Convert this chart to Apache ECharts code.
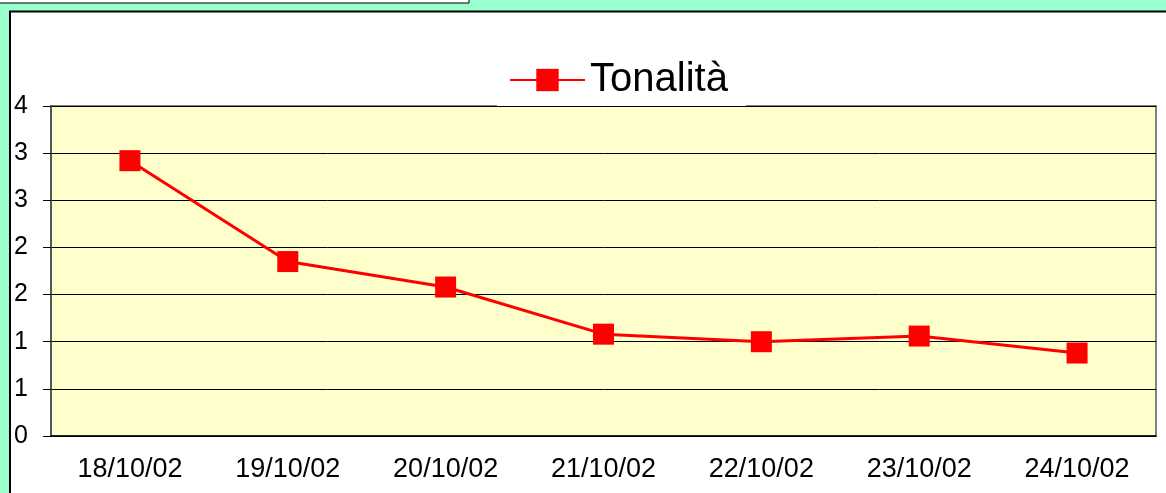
<!DOCTYPE html>
<html>
<head>
<meta charset="utf-8">
<script src="https://cdn.jsdelivr.net/npm/echarts@6/dist/echarts.min.js"></script>
<style>
  html, body { margin: 0; padding: 0; background: #99FFCC; }
  #chart { width: 1166px; height: 493px; }
</style>
</head>
<body>
<div id="chart"></div>
<script>
const dates = ['18/10/02', '19/10/02', '20/10/02', '21/10/02', '22/10/02', '23/10/02', '24/10/02']
const tonalita = [2.92, 1.85, 1.58, 1.08, 1.0, 1.06, 0.88]

const chart = echarts.init(document.getElementById('chart'))
chart.setOption({
  backgroundColor: '#99FFCC',
  animation: false,
  textStyle: { fontFamily: 'Liberation Sans, Arial, sans-serif' },
  graphic: [
    // box on top-left
    { type: 'rect', z: -10, shape: { x: -5, y: -5, width: 474, height: 8 },
      style: { fill: '#fff', stroke: '#000', lineWidth: 1 } },
    // white chart panel
    { type: 'rect', z: -10, shape: { x: 10, y: 11.5, width: 1200, height: 520 },
      style: { fill: '#fff', stroke: '#000', lineWidth: 2 } }
  ],
  legend: {
    data: ['Tonalità'],
    left: 497,
    top: 55,
    padding: [5, 18, 6, 12],
    backgroundColor: '#fff',
    itemWidth: 75,
    itemHeight: 28,
    textStyle: { fontSize: 40, color: '#000', fontFamily: 'Liberation Sans, Arial, sans-serif' }
  },
  grid: {
    left: 51, right: 10, top: 106, bottom: 57,
    show: true,
    backgroundColor: '#FFFFCC',
    borderColor: '#808080',
    borderWidth: 2
  },
  xAxis: {
    type: 'category',
    data: dates,
    boundaryGap: true,
    axisLine: { lineStyle: { color: '#000', width: 1.5 } },
    axisTick: { length: 8, lineStyle: { color: '#000' } },
    axisLabel: { fontSize: 27, color: '#000', margin: 20 }
  },
  yAxis: {
    type: 'value',
    min: 0,
    max: 3.5,
    interval: 0.5,
    axisLine: { show: true, lineStyle: { color: '#555', width: 2 } },
    axisTick: { show: true, length: 8, lineStyle: { color: '#000' } },
    axisLabel: { fontSize: 25, color: '#000', margin: 23, formatter: v => Math.round(v) },
    splitLine: { lineStyle: { color: '#000', width: 1 } }
  },
  series: [{
    name: 'Tonalità',
    type: 'line',
    data: tonalita,
    symbol: 'rect',
    symbolSize: 21,
    itemStyle: { color: '#FF0000' },
    lineStyle: { color: '#FF0000', width: 3 }
  }]
})
</script>
</body>
</html>
